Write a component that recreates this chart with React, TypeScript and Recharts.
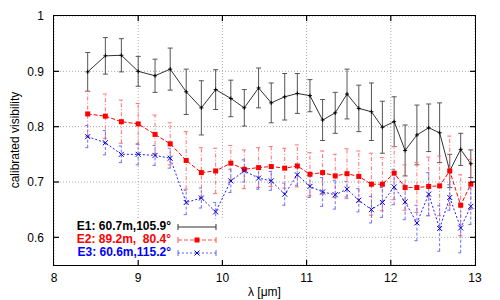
import { ComposedChart, Line, ErrorBar, XAxis, YAxis, CartesianGrid, Label } from "recharts";

// wavelength grid (um)
const wavelength = [8.40, 8.61, 8.80, 9.00, 9.20, 9.38, 9.57, 9.75, 9.92, 10.10, 10.26, 10.43, 10.58, 10.74, 10.89, 11.04, 11.19, 11.34, 11.48, 11.62, 11.77, 11.90, 12.04, 12.17, 12.31, 12.45, 12.58, 12.70, 12.83, 12.95];

const e1 = [0.899, 0.928, 0.929, 0.900, 0.892, 0.904, 0.863, 0.834, 0.867, 0.851, 0.834, 0.870, 0.843, 0.854, 0.860, 0.856, 0.812, 0.825, 0.859, 0.833, 0.827, 0.799, 0.809, 0.757, 0.785, 0.798, 0.789, 0.720, 0.759, 0.733];
const e1Err = [0.035, 0.033, 0.030, 0.027, 0.030, 0.038, 0.041, 0.049, 0.036, 0.033, 0.033, 0.036, 0.036, 0.042, 0.036, 0.029, 0.037, 0.037, 0.045, 0.042, 0.052, 0.047, 0.045, 0.046, 0.054, 0.043, 0.054, 0.030, 0.029, 0.025];

const e2 = [0.823, 0.819, 0.809, 0.805, 0.786, 0.769, 0.739, 0.717, 0.720, 0.734, 0.723, 0.726, 0.728, 0.725, 0.729, 0.714, 0.717, 0.711, 0.715, 0.710, 0.696, 0.696, 0.716, 0.690, 0.690, 0.692, 0.693, 0.720, 0.658, 0.696];
const e2Err = [0.041, 0.040, 0.039, 0.037, 0.035, 0.038, 0.052, 0.045, 0.041, 0.032, 0.035, 0.036, 0.036, 0.036, 0.038, 0.039, 0.039, 0.039, 0.045, 0.046, 0.056, 0.048, 0.048, 0.041, 0.045, 0.053, 0.054, 0.063, 0.055, 0.045];

const e3 = [0.782, 0.771, 0.750, 0.750, 0.748, 0.743, 0.663, 0.671, 0.646, 0.702, 0.720, 0.707, 0.702, 0.678, 0.713, 0.692, 0.682, 0.677, 0.687, 0.667, 0.650, 0.663, 0.691, 0.664, 0.626, 0.678, 0.616, 0.672, 0.617, 0.656];
const e3Err = [0.020, 0.022, 0.015, 0.019, 0.018, 0.018, 0.022, 0.018, 0.017, 0.021, 0.020, 0.020, 0.017, 0.020, 0.019, 0.020, 0.026, 0.026, 0.014, 0.021, 0.024, 0.027, 0.032, 0.032, 0.032, 0.039, 0.041, 0.023, 0.045, 0.033];

const xTicks = [8, 9, 10, 11, 12, 13];
const yTicks = [0.6, 0.7, 0.8, 0.9, 1];
const X_MIN = 8, X_MAX = 13, Y_MIN = 0.55, Y_MAX = 1;

const legendItems = [
  { label: "E1: 60.7m,105.9°", color: "#000000", line: "#333", dash: "", marker: "plus" },
  { label: "E2: 89.2m,  80.4°", color: "#ff0000", line: "#ff5050", dash: "4 2", marker: "square" },
  { label: "E3: 60.6m,115.2°", color: "#0000ff", line: "#6060ff", dash: "2 2", marker: "cross" },
];

const data = wavelength.map((w, i) => ({
  w,
  e1: e1[i], e1Err: e1Err[i],
  e2: e2[i], e2Err: e2Err[i],
  e3: e3[i], e3Err: e3Err[i],
}));

const FONT = "'Liberation Sans', Arial, sans-serif";

// plot box (px), shared by chart margins and the frame overlay
const W = 500, H = 300;
const M = { top: 16, right: 25, left: 0, bottom: 0 };
const Y_AXIS_W = 54, X_AXIS_H = 35;
const PL = M.left + Y_AXIS_W, PR = W - M.right, PT = M.top, PB = H - M.bottom - X_AXIS_H;
const px = (v: number) => PL + ((v - X_MIN) / (X_MAX - X_MIN)) * (PR - PL);
const py = (v: number) => PB - ((v - Y_MIN) / (Y_MAX - Y_MIN)) * (PB - PT);
const TICK = 5;

const PlusDot = (props: any) => {
  const { cx, cy } = props;
  if (cx == null || cy == null) return null;
  return (
    <g>
      <line x1={cx - 2} y1={cy} x2={cx + 2} y2={cy} stroke="#000" strokeWidth={1} />
      <line x1={cx} y1={cy - 2} x2={cx} y2={cy + 2} stroke="#000" strokeWidth={1} />
    </g>
  );
};

const SquareDot = (props: any) => {
  const { cx, cy } = props;
  if (cx == null || cy == null) return null;
  return <rect x={cx - 2.5} y={cy - 2.5} width={5} height={5} fill="#ff0000" />;
};

const CrossDot = (props: any) => {
  const { cx, cy } = props;
  if (cx == null || cy == null) return null;
  return (
    <g stroke="#0000cc" strokeWidth={1}>
      <line x1={cx - 2.5} y1={cy - 2.5} x2={cx + 2.5} y2={cy + 2.5} />
      <line x1={cx - 2.5} y1={cy + 2.5} x2={cx + 2.5} y2={cy - 2.5} />
    </g>
  );
};

function LegendSample({ item }: { item: any }) {
  return (
    <svg width={40} height={10} style={{ display: "block" }}>
      <line x1={1} y1={5} x2={39} y2={5} stroke={item.line} strokeDasharray={item.dash || undefined} />
      <line x1={1} y1={2} x2={1} y2={8} stroke={item.line} />
      <line x1={39} y1={2} x2={39} y2={8} stroke={item.line} />
      {item.marker === "square" && <rect x={17.5} y={2.5} width={5} height={5} fill="#ff0000" />}
      {item.marker === "cross" && (
        <g stroke="#0000cc">
          <line x1={17.5} y1={2.5} x2={22.5} y2={7.5} />
          <line x1={17.5} y1={7.5} x2={22.5} y2={2.5} />
        </g>
      )}
    </svg>
  );
}

// border + inward ticks on all four sides
function Frame() {
  const innerX = xTicks.slice(1, -1);
  const innerY = yTicks.slice(0, -1);
  return (
    <>
      <div
        style={{
          position: "absolute",
          left: PL - 1,
          top: PT - 1,
          width: PR - PL,
          height: PB - PT,
          border: "1.5px solid #000",
          pointerEvents: "none",
        }}
      />
      <svg width={W} height={H} style={{ position: "absolute", left: 0, top: 0, pointerEvents: "none", overflow: "visible" }}>
        {innerX.map((t) => (
          <g key={`x${t}`}>
            <path d={`M${px(t)},${PB} L${px(t)},${PB - TICK}`} stroke="#000" strokeWidth={1.2} />
            <path d={`M${px(t)},${PT} L${px(t)},${PT + TICK}`} stroke="#000" strokeWidth={1.2} />
          </g>
        ))}
        {innerY.map((t) => (
          <g key={`y${t}`}>
            <path d={`M${PL},${py(t)} L${PL + TICK},${py(t)}`} stroke="#000" strokeWidth={1.2} />
            <path d={`M${PR},${py(t)} L${PR - TICK},${py(t)}`} stroke="#000" strokeWidth={1.2} />
          </g>
        ))}
      </svg>
    </>
  );
}

export default function App() {
  return (
    <div style={{ position: "absolute", left: 0, top: 0, width: W, height: H, background: "#fff", fontFamily: FONT }}>
      <ComposedChart width={W} height={H} data={data} margin={M}>
        <CartesianGrid stroke="#aaa" strokeDasharray="1 2" />
        <XAxis
          dataKey="w"
          type="number"
          domain={[X_MIN, X_MAX]}
          ticks={xTicks}
          height={X_AXIS_H}
          tickSize={5}
          tickMargin={3}
          tickLine={false}
          axisLine={false}
          tick={{ fill: "#000", fontSize: 12 }}
          allowDataOverflow
        >
          <Label
            content={() => (
              <text x={264.5} y={296} textAnchor="middle" fontSize={12} fill="#000" fontFamily={FONT}>
                λ [μm]
              </text>
            )}
          />
        </XAxis>
        <YAxis
          type="number"
          domain={[Y_MIN, Y_MAX]}
          ticks={yTicks}
          width={Y_AXIS_W}
          tickSize={5}
          tickMargin={5}
          tickLine={false}
          axisLine={false}
          tick={{ fill: "#000", fontSize: 12 }}
          allowDataOverflow
        >
          <Label
            content={() => (
              <text x={15} y={140} transform="rotate(-90 15 140)" textAnchor="middle" dominantBaseline="central" fontSize={12} fill="#000" fontFamily={FONT}>
                calibrated visibility
              </text>
            )}
          />
        </YAxis>
        <Line
          dataKey="e1"
          stroke="#333"
          strokeWidth={1}
          dot={<PlusDot />}
          activeDot={false}
          isAnimationActive={false}
        >
          <ErrorBar dataKey="e1Err" direction="y" width={2.5} stroke="#555" strokeWidth={1} />
        </Line>
        <Line
          dataKey="e2"
          stroke="#ff0000"
          strokeWidth={1}
          strokeDasharray="4 2"
          dot={<SquareDot />}
          activeDot={false}
          isAnimationActive={false}
        >
          <ErrorBar dataKey="e2Err" direction="y" width={2.5} stroke="#ff7070" strokeWidth={1} strokeDasharray="4 2 1 2" />
        </Line>
        <Line
          dataKey="e3"
          stroke="#2020ff"
          strokeWidth={1}
          strokeDasharray="2 2"
          dot={<CrossDot />}
          activeDot={false}
          isAnimationActive={false}
        >
          <ErrorBar dataKey="e3Err" direction="y" width={2.5} stroke="#7070ff" strokeWidth={1} strokeDasharray="3 2" />
        </Line>
      </ComposedChart>

      {/* key, opaque like gnuplot's */}
      <div style={{ position: "absolute", left: PL + 1, top: 219, width: 170, height: PB - 219, background: "#fff" }}>
        {legendItems.map((item, i) => (
          <div key={item.label} style={{ position: "absolute", left: 0, top: 1 + i * 13, height: 13, display: "flex", alignItems: "center" }}>
            <span style={{ width: 116, textAlign: "right", fontWeight: "bold", fontSize: 12, color: item.color, whiteSpace: "pre", lineHeight: "13px" }}>
              {item.label}
            </span>
            <span style={{ marginLeft: 6 }}>
              <LegendSample item={item} />
            </span>
          </div>
        ))}
      </div>

      <Frame />
    </div>
  );
}
